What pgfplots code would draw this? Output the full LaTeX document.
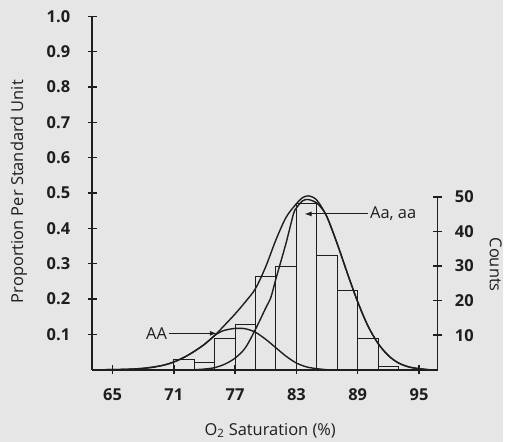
\documentclass[border=0pt]{standalone}
\usepackage{pgfplots}
\pgfplotsset{compat=1.18}
\usetikzlibrary{arrows.meta}
\usepackage{fontspec}
\setmainfont{Open Sans}

\definecolor{paper}{RGB}{230,230,230}
\definecolor{ink}{RGB}{30,30,30}

\newcommand{\lblfont}{\fontsize{16.5}{19}\selectfont}

\pgfplotsset{
  o2/.style={
    scale only axis,
    width=347.5pt, height=355pt,
    xmin=63, xmax=96.85, ymin=0,
    tick align=outside,
    major tick length=9pt,
    every tick/.style={ink, line width=1.4pt},
    tick label style={font=\lblfont\bfseries, text=ink},
    /pgf/number format/assume math mode=true,
  }
}

\begin{document}
\begin{tikzpicture}
\fill[paper] (-92.5pt,-72.5pt) rectangle (412.5pt,371.5pt);

% left axis: proportion per standard unit, fitted curves
\begin{axis}[o2,
    ymax=1.0,
    axis x line=bottom, axis y line=left,
    axis line style={-, ink, line width=1.6pt},
    xtick={65,71,77,83,89,95},
    ytick={0.1,0.2,0.3,0.4,0.5,0.6,0.7,0.8,0.9,1.0},
    yticklabel style={xshift=-14pt, /pgf/number format/fixed,
      /pgf/number format/fixed zerofill, /pgf/number format/precision=1},
    xticklabel style={yshift=-11pt},
]
% mixture
\addplot[ink, line width=1.4pt, smooth] coordinates {
  (64,0) (65,0.0005) (66,0.001) (67,0.002) (68,0.004) (69,0.007) (70,0.013)
  (71,0.022) (72,0.035) (73,0.052) (74,0.072) (75,0.097) (76,0.127)
  (77,0.158) (78,0.192) (79,0.230) (80,0.292) (81,0.368) (82,0.432)
  (83,0.470) (83.6,0.487) (84.2,0.492) (85,0.480) (86,0.432) (87,0.356)
  (88,0.272) (89,0.192) (90,0.124) (91,0.074) (92,0.040) (93,0.019)
  (94,0.008) (95,0.003) (96,0)
};
% Aa, aa
\addplot[ink, line width=1.4pt, smooth] coordinates {
  (73,0) (74,0.002) (75,0.006) (76,0.016) (77,0.033) (78,0.062)
  (79,0.115) (80,0.175) (80.5,0.205) (81,0.258) (82,0.360) (82.7,0.440)
  (83,0.458) (83.6,0.478) (84.1,0.482) (84.6,0.478) (85,0.472) (85.5,0.456)
  (86,0.432) (87,0.356) (88,0.272) (89,0.192) (90,0.124) (91,0.074)
  (92,0.040) (93,0.019) (94,0.008) (95,0.003) (96,0)
};
% AA
\addplot[ink, line width=1.4pt, smooth] coordinates {
  (64,0) (66,0.001) (68,0.004) (70,0.013) (71,0.022) (72,0.035) (73,0.052)
  (74,0.072) (75,0.097) (75.5,0.106) (76,0.112) (77,0.117) (78,0.116)
  (79,0.106) (80,0.086) (81,0.062) (82,0.038) (83,0.019) (84,0.008)
  (85,0.003) (86,0)
};
\draw[ink, line width=0.9pt, -{Latex[length=7pt,width=5pt]}]
  (axis cs:90.0,0.441) -- (axis cs:83.8,0.441);
\node[anchor=west, font=\lblfont, text=ink, inner sep=1pt] at (axis cs:90.1,0.441) {Aa, aa};
\draw[ink, line width=0.9pt, -{Latex[length=7pt,width=5pt]}]
  (axis cs:70.5,0.103) -- (axis cs:75.2,0.103);
\node[anchor=east, font=\lblfont, text=ink, inner sep=1pt] at (axis cs:70.45,0.103) {AA};
\end{axis}

% right axis: counts histogram
\begin{axis}[o2,
    ymax=102.2,
    axis x line=none, axis y line=right,
    y axis line style={draw=none},
    xtick=\empty,
    ytick={10,20,30,40,50},
    yticklabel style={xshift=9pt},
]
\addplot[ybar interval, draw=ink, fill=none, line width=1pt] coordinates {
  (71,3) (73,2) (75,9) (77,13) (79,27) (81,30) (83,48) (85,33)
  (87,23) (89,9) (91,1) (93,1)
};
\draw[ink, line width=1.6pt] (axis cs:96.85,0) -- (axis cs:96.85,50);
\end{axis}

\node[rotate=90, font=\lblfont, text=ink] at (-73.5pt,179pt) {Proportion Per Standard Unit};
\node[font=\lblfont, text=ink] at (179pt,-61pt) {O\textsubscript{2} Saturation (\%)};
\node[rotate=-90, font=\lblfont, text=ink] at (405.5pt,105.5pt) {Counts};
\end{tikzpicture}
\end{document}
